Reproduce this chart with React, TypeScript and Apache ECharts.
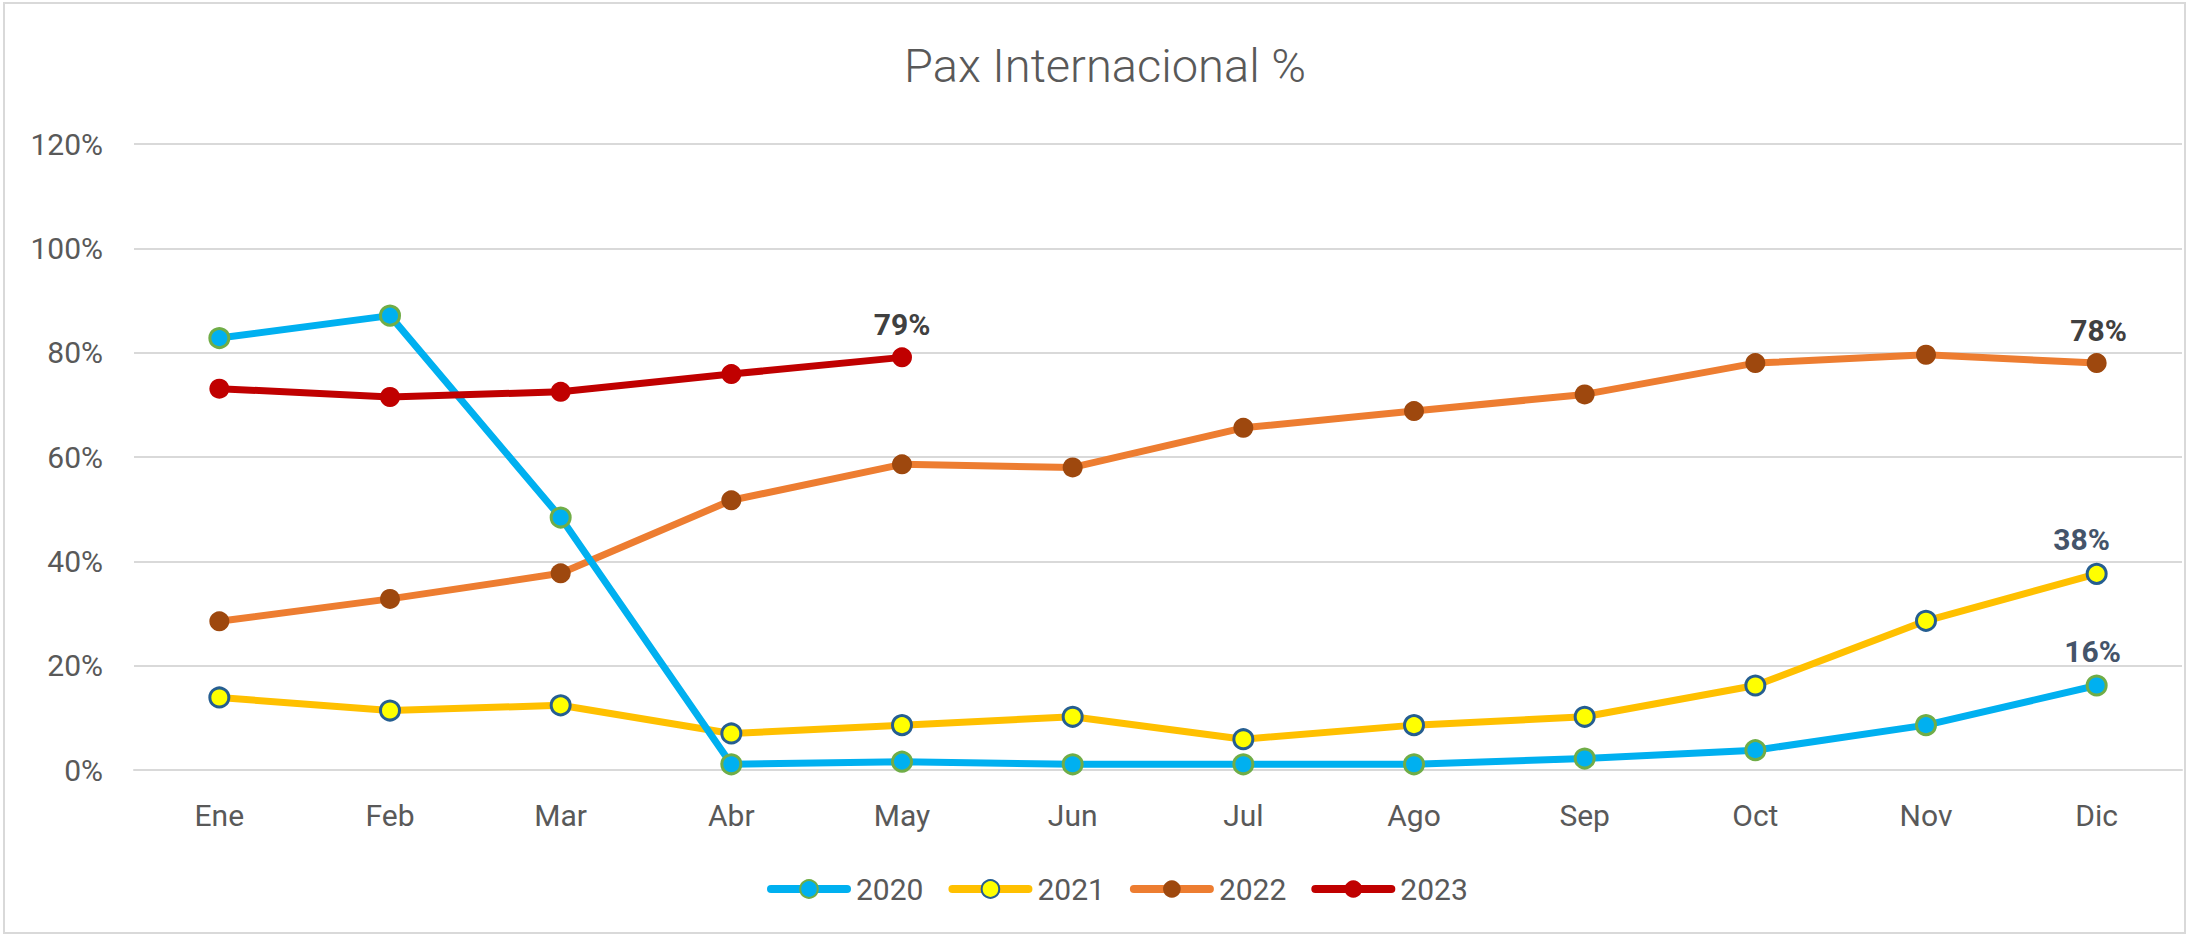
import React, { useEffect, useRef } from "react";
import * as echarts from "echarts";

const months = ["Ene", "Feb", "Mar", "Abr", "May", "Jun", "Jul", "Ago", "Sep", "Oct", "Nov", "Dic"];
const s2020 = [82.8, 87.1, 48.4, 1.1, 1.6, 1.1, 1.1, 1.1, 2.2, 3.8, 8.6, 16.2];
const s2021 = [13.9, 11.4, 12.4, 7.0, 8.6, 10.2, 5.9, 8.6, 10.2, 16.2, 28.6, 37.6];
const s2022 = [28.5, 32.8, 37.7, 51.7, 58.6, 58.0, 65.6, 68.8, 72.0, 78.0, 79.6, 78.0];
const s2023 = [73.1, 71.5, 72.5, 75.9, 79.1];
const yTicks = [0, 20, 40, 60, 80, 100, 120];

const FONT = "Roboto";

function withLabel(values: number[], idx: number, color: string, offset: number[] = [0, 0]) {
  return values.map((v, i) =>
    i === idx
      ? {
          value: v,
          label: {
            show: true,
            position: "top",
            distance: 8,
            offset,
            formatter: (p: any) => `${Math.round(p.value)}%`,
            color,
            fontFamily: FONT,
            fontWeight: "bold",
            fontSize: 30,
          },
        }
      : v
  );
}

export default function App() {
  const ref = useRef<HTMLDivElement>(null);
  useEffect(() => {
    document.body.style.margin = "0";
    const chart = echarts.init(ref.current!, null, { renderer: "svg" });
    const lineW = 7;
    chart.setOption({
      animation: false,
      backgroundColor: "#ffffff",
      title: {
        text: "Pax Internacional %",
        left: 1100,
        top: 37,
        textAlign: "center",
        textStyle: { fontFamily: FONT, fontWeight: 300, fontSize: 47, color: "#595959" },
      },
      graphic: [
        {
          type: "rect",
          shape: { x: 4, y: 3, width: 2181, height: 930 },
          style: { fill: "none", stroke: "#D9D9D9", lineWidth: 2 },
          silent: true,
        },
      ],
      legend: {
        left: 762,
        top: 869,
        itemWidth: 76,
        itemHeight: 22,
        itemGap: 25,
        lineStyle: { width: 8, cap: "round" },
        textStyle: { fontFamily: FONT, fontSize: 30, color: "#595959", padding: [0, 0, 0, 4] },
        data: ["2020", "2021", "2022", "2023"],
      },
      grid: { left: 134, right: 8, top: 144, bottom: 167, containLabel: false },
      xAxis: {
        type: "category",
        data: months,
        boundaryGap: true,
        axisLine: { show: true, lineStyle: { color: "#D9D9D9", width: 2 } },
        axisTick: { show: false },
        axisLabel: { color: "#595959", fontFamily: FONT, fontSize: 30, margin: 30 },
      },
      yAxis: {
        type: "value",
        min: yTicks[0],
        max: yTicks[yTicks.length - 1],
        interval: 20,
        axisLine: { show: false },
        axisTick: { show: false },
        splitLine: { lineStyle: { color: "#D9D9D9", width: 2 } },
        axisLabel: { color: "#595959", fontFamily: FONT, fontSize: 30, margin: 31, formatter: "{value}%" },
      },
      series: [
        {
          name: "2020",
          type: "line",
          data: withLabel(s2020, 11, "#44546A", [-4, 0]),
          symbol: "circle",
          symbolSize: 19,
          lineStyle: { color: "#00B0F0", width: lineW },
          itemStyle: { color: "#00B0F0", borderColor: "#70AD47", borderWidth: 3 },
          z: 4,
        },
        {
          name: "2021",
          type: "line",
          data: withLabel(s2021, 11, "#44546A", [-15, 0]),
          symbol: "circle",
          symbolSize: 19,
          lineStyle: { color: "#FFC000", width: lineW },
          itemStyle: { color: "#FFFF00", borderColor: "#255E91", borderWidth: 3 },
          z: 3,
        },
        {
          name: "2022",
          type: "line",
          data: withLabel(s2022, 11, "#404040", [2, 0]),
          symbol: "circle",
          symbolSize: 20,
          lineStyle: { color: "#ED7D31", width: lineW },
          itemStyle: { color: "#9E480E", borderWidth: 0 },
          z: 2,
        },
        {
          name: "2023",
          type: "line",
          data: withLabel(s2023, 4, "#404040", [0, 0]),
          symbol: "circle",
          symbolSize: 20,
          lineStyle: { color: "#C00000", width: lineW },
          itemStyle: { color: "#C00000", borderWidth: 0 },
          z: 5,
        },
      ],
    });
    return () => chart.dispose();
  }, []);
  return <div ref={ref} style={{ width: 2190, height: 937 }} />;
}
